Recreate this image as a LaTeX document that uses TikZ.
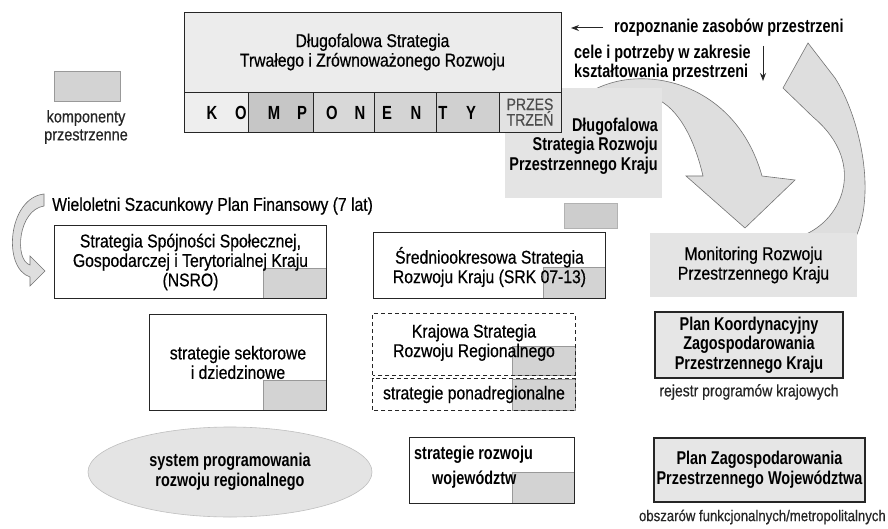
\documentclass[tikz,border=0pt]{standalone}
\usepackage{fontspec}
\setmainfont{Liberation Sans}[FakeStretch=0.85,UprightFeatures={FakeBold=0.5},BoldFeatures={FakeStretch=0.78}]
\usetikzlibrary{arrows.meta,shapes.geometric}

\definecolor{inkline}{HTML}{262626}
\definecolor{paperfill}{HTML}{ECECEC}
\definecolor{compfill}{HTML}{D3D3D3}
\definecolor{hazefill}{HTML}{E4E4E4}
\definecolor{arrowfill}{HTML}{DEDEDE}
\definecolor{planfill}{HTML}{E6E6E6}
\definecolor{cellK}{HTML}{EEEEEE}
\definecolor{cellM}{HTML}{C6C6C6}
\definecolor{cellO}{HTML}{D8D8D8}
\definecolor{cellE}{HTML}{D4D4D4}
\definecolor{cellT}{HTML}{D0D0D0}
\definecolor{cellP}{HTML}{E2E2E2}

\newcommand\txtreg{\fontsize{18.5}{19.5}\selectfont}
\newcommand\txtbold{\fontsize{18.5}{19.5}\selectfont\bfseries}
\newcommand\txtsmall{\fontsize{17}{18}\selectfont}
\newcommand\txtnote{\fontsize{16.5}{17}\selectfont}
\newcommand\txtfine{\fontsize{15.5}{17}\selectfont}
\newcommand\txtletter{\fontsize{19}{19}\selectfont\bfseries}
\newcommand\txtcaps{\fontsize{16.5}{15.5}\selectfont}

\tikzset{
  boxfill/.style={rectangle, fill=white, draw=none, inner sep=0pt},
  boxline/.style={draw=inkline, line width=0.9pt},
  dashline/.style={draw=inkline, line width=0.8pt, dash pattern=on 4pt off 3pt},
  compo/.style={rectangle, fill=compfill, draw=black!40, line width=0.5pt, inner sep=0pt},
  haze/.style={rectangle, fill=hazefill, inner sep=0pt},
  planbox/.style={rectangle, fill=planfill, draw=black!85, line width=1.6pt, inner sep=0pt, align=center, font=\txtbold},
  bigarrow/.style={fill=arrowfill, draw=black!55, line width=0.6pt},
  cell/.style={rectangle, draw=inkline, line width=0.8pt, inner sep=0pt, minimum height=40pt},
  letter/.style={font=\txtletter, inner sep=0pt},
  thinarrow/.style={-{Stealth[length=8pt,width=6pt]}, line width=1pt, draw=black!85},
  label/.style={inner sep=0pt, align=center}
}

\begin{document}
\begin{tikzpicture}[x=1pt,y=-1pt]
\useasboundingbox (0,0) rectangle (888,529);
\fill[white] (0,0) rectangle (888,529);

% --- curved arrows of the planning cycle
\path[bigarrow] (590,92) .. controls (640,62) and (735,80) .. (762,176)
  -- (795,180) -- (745,228) -- (686,176) -- (703,176)
  .. controls (690,120) and (665,95) .. (640,95) -- cycle;
\path[bigarrow] (798,237) .. controls (840,225) and (870,165) .. (813,117)
  -- (783,88) -- (808,43) -- (835,78)
  .. controls (862,120) and (885,220) .. (838,262) -- cycle;

% --- spatial strategy and monitoring (soft grey fields)
\node[haze, minimum width=157pt, minimum height=110pt] (dsrpk) at (583.5,143) {};
\node[compo, fill=hazefill!90!black, draw=black!30, minimum width=53pt, minimum height=25pt] (dsrpkfoot) at (590.5,215.5) {};
\node[haze, minimum width=207pt, minimum height=64pt] (monit) at (753.5,265) {};
\node[label, font=\txtreg] (monitT) at (monit.center) {Monitoring Rozwoju\\Przestrzennego Kraju};

% --- long-term sustainable development strategy with its components
\node[rectangle, fill=paperfill, draw=inkline, line width=0.9pt, minimum width=377pt, minimum height=80pt, font=\txtreg, align=center] (dstr) at (372.5,52) {Długofalowa Strategia\\Trwałego i Zrównoważonego Rozwoju};
\node[cell, fill=cellK, minimum width=64pt] (c1) at (216,112) {};
\node[cell, fill=cellM, minimum width=65pt] (c2) at (280.5,112) {};
\node[cell, fill=cellO, minimum width=61pt] (c3) at (343.5,112) {};
\node[cell, fill=cellE, minimum width=62pt] (c4) at (405,112) {};
\node[cell, fill=cellT, minimum width=63pt] (c5) at (467.5,112) {};
\node[cell, fill=cellP, minimum width=62pt] (c6) at (530,112) {};
\node[letter] (l1) at (212,113) {K};
\node[letter] (l2) at (241,113) {O};
\node[letter] (l3) at (274,113) {M};
\node[letter] (l4) at (302,113) {P};
\node[letter] (l5) at (332,113) {O};
\node[letter] (l6) at (360,113) {N};
\node[letter] (l7) at (387,113) {E};
\node[letter] (l8) at (416,113) {N};
\node[letter] (l9) at (443,113) {T};
\node[letter] (l10) at (471,113) {Y};
\node[label, font=\txtcaps, text=black!70] (przes) at (c6.center) {PRZES\\TRZEŃ};

\node[label, font=\txtbold, anchor=east, align=right] (dsrpkT) at (658,146) {Długofalowa\\Strategia Rozwoju\\Przestrzennego Kraju};

% --- legend
\node[compo, minimum width=66pt, minimum height=30pt] (legend) at (87,86) {};
\node[label, font=\txtsmall, text=black!85] (legendT) at (86,127) {komponenty\\przestrzenne};

% --- notes on the right
\node[label, font=\txtbold, anchor=west] (rozp) at (614,28) {rozpoznanie zasobów przestrzeni};
\coordinate (rozpTip) at (571,28);
\draw[thinarrow, shorten <=11pt] (rozp.west) -- (rozpTip);
\node[label, font=\txtbold, anchor=west, align=left] (cele) at (574,63) {cele i potrzeby w zakresie\\kształtowania przestrzeni};
\coordinate (celeTop) at (763,46);
\coordinate (celeTip) at (763,81);
\draw[thinarrow] (celeTop) -- (celeTip);

% --- multi-annual financial plan
\path[bigarrow] (44,194) .. controls (8,198) and (2,268) .. (30,277)
  -- (30,286) -- (45,271) -- (30,256) -- (30,265)
  .. controls (14,260) and (18,210) .. (44,206) -- cycle;
\node[label, font=\txtreg, anchor=west] (wspf) at (52,206) {Wieloletni Szacunkowy Plan Finansowy (7 lat)};

% --- NSRO
\node[boxfill, minimum width=271pt, minimum height=72pt] (nsro) at (190.5,262) {};
\node[compo, anchor=south east, minimum width=63pt, minimum height=30pt] (nsroC) at (nsro.south east) {};
\draw[boxline] (nsro.south west) rectangle (nsro.north east);
\node[label, font=\txtreg] (nsroT) at (nsro.center) {Strategia Spójności Społecznej,\\Gospodarczej i Terytorialnej Kraju\\(NSRO)};

% --- SRK
\node[boxfill, minimum width=231pt, minimum height=65pt] (srk) at (489.5,265.5) {};
\node[compo, anchor=south east, minimum width=62pt, minimum height=31pt] (srkC) at (srk.south east) {};
\draw[boxline] (srk.south west) rectangle (srk.north east);
\node[label, font=\txtreg] (srkT) at (489.5,267) {Średniookresowa Strategia\\Rozwoju Kraju (SRK 07-13)};

% --- sector strategies
\node[boxfill, minimum width=176pt, minimum height=95pt] (sekt) at (238,362.5) {};
\node[compo, anchor=south east, minimum width=63pt, minimum height=30pt] (sektC) at (sekt.south east) {};
\draw[boxline] (sekt.south west) rectangle (sekt.north east);
\node[label, font=\txtreg] (sektT) at (238,362.5) {strategie sektorowe\\i dziedzinowe};

% --- regional development strategy (dashed)
\node[boxfill, minimum width=202pt, minimum height=61pt] (ksrr) at (474,344.5) {};
\node[compo, anchor=south east, minimum width=63pt, minimum height=29pt] (ksrrC) at (ksrr.south east) {};
\draw[dashline] (ksrr.south west) rectangle (ksrr.north east);
\node[label, font=\txtreg] (ksrrT) at (474,342.5) {Krajowa Strategia\\Rozwoju Regionalnego};

\node[boxfill, minimum width=202pt, minimum height=31pt] (ponad) at (474,394.5) {};
\node[compo, anchor=south east, minimum width=63pt, minimum height=31pt] (ponadC) at (ponad.south east) {};
\draw[dashline] (ponad.south west) rectangle (ponad.north east);
\node[label, font=\txtreg] (ponadT) at (ponad.center) {strategie ponadregionalne};

% --- voivodeship strategies
\node[boxfill, minimum width=164pt, minimum height=65pt] (woj) at (492,470.5) {};
\node[compo, anchor=south east, minimum width=62pt, minimum height=31pt] (wojC) at (woj.south east) {};
\draw[boxline] (woj.south west) rectangle (woj.north east);
\node[label, font=\txtbold, anchor=west] (wojT1) at (414,455) {strategie rozwoju};
\node[label, font=\txtbold, anchor=west] (wojT2) at (432,480) {województw};

% --- regional programming system
\node[ellipse, fill=hazefill, draw=black!25, line width=0.6pt, minimum width=284pt, minimum height=90pt, inner sep=0pt, font=\txtbold, align=center] (sysprog) at (230,472) {system programowania\\rozwoju regionalnego};

% --- spatial plans
\node[planbox, minimum width=188pt, minimum height=66pt] (pkz) at (749,345) {Plan Koordynacyjny\\Zagospodarowania\\Przestrzennego Kraju};
\node[label, font=\txtnote, text=black!85] (pkzT) at (749,392) {rejestr programów krajowych};
\node[planbox, minimum width=211pt, minimum height=64pt] (pzw) at (759.5,470) {Plan Zagospodarowania\\Przestrzennego Województwa};
\node[label, font=\txtfine, text=black!85, anchor=east] (pzwT) at (886,517) {obszarów funkcjonalnych/metropolitalnych};
\end{tikzpicture}
\end{document}
